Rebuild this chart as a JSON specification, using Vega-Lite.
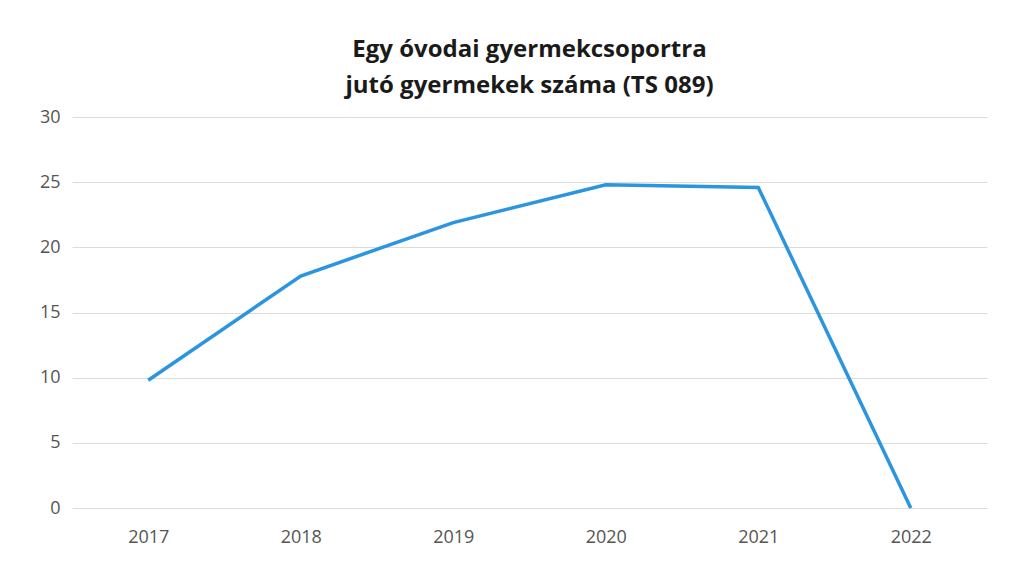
{
  "$schema": "https://vega.github.io/schema/vega-lite/v6.json",
  "autosize": "none",
  "width": 915,
  "height": 391,
  "padding": {"left": 72, "top": 117, "right": 31, "bottom": 63},
  "background": "white",
  "title": {
    "text": ["Egy óvodai gyermekcsoportra", "jutó gyermekek száma (TS 089)"],
    "font": "Open Sans",
    "fontSize": 24,
    "fontWeight": "bold",
    "color": "#1a1a1a",
    "anchor": "middle",
    "lineHeight": 36,
    "offset": 10
  },
  "data": {
    "values": [
      {"ev": "2017", "ertek": 9.8},
      {"ev": "2018", "ertek": 17.8},
      {"ev": "2019", "ertek": 21.9},
      {"ev": "2020", "ertek": 24.8},
      {"ev": "2021", "ertek": 24.6},
      {"ev": "2022", "ertek": 0}
    ]
  },
  "mark": {"type": "line", "color": "#2b95df", "strokeWidth": 3.5},
  "encoding": {
    "x": {
      "field": "ev",
      "type": "ordinal",
      "scale": {"type": "point", "padding": 0.5},
      "axis": {
        "title": null,
        "labelAngle": 0,
        "labelFont": "Open Sans",
        "labelFontSize": 18,
        "labelColor": "#555555",
        "labelPadding": 20,
        "ticks": false,
        "domain": false,
        "grid": false
      }
    },
    "y": {
      "field": "ertek",
      "type": "quantitative",
      "scale": {"domain": [0, 30]},
      "axis": {
        "title": null,
        "values": [0, 5, 10, 15, 20, 25, 30],
        "labelFont": "Open Sans",
        "labelFontSize": 18,
        "labelColor": "#555555",
        "labelPadding": 12,
        "ticks": false,
        "domain": false,
        "gridColor": "#dcdcdc",
        "gridWidth": 1
      }
    }
  },
  "config": {"view": {"stroke": null}}
}
